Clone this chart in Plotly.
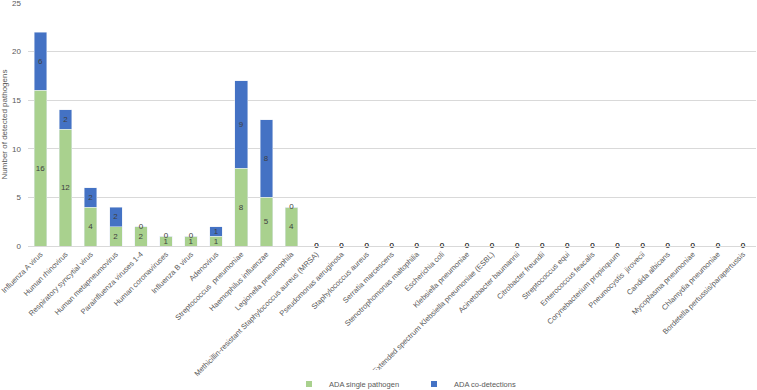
import plotly.graph_objects as go

categories = [
    "Influenza A virus", "Human rhinovirus", "Respiratory syncytial virus",
    "Human metapneumovirus", "Parainfluenza viruses 1-4", "Human coronaviruses",
    "Influenza B virus", "Adenovirus", "Streptococcus  pneumoniae",
    "Haemophilus influenzae", "Legionella pneumophila",
    "Methicillin-resistant Staphylococcus aureus (MRSA)", "Pseudomonas aeruginosa",
    "Staphylococcus aureus", "Serratia marcescens", "Stenotrophomonas maltophilia",
    "Escherichia coli", "Klebsiella pneumoniae",
    "Extended spectrum Klebsiella pneumoniae (ESBL)", "Acinetobacter baumannii",
    "Citrobacter freundii", "Streptococcus equi", "Enterococcus feacalis",
    "Corynebacterium propinquum", "Pneumocystis  jirovecii", "Candida albicans",
    "Mycoplasma pneumoniae", "Chlamydia pneumoniae", "Bordetella pertussis/parapertussis",
]
single = [16, 12, 4, 2, 2, 1, 1, 1, 8, 5, 4] + [0] * 18
codet = [6, 2, 2, 2, 0, 0, 0, 1, 9, 8, 0] + [0] * 18
series_names = ["ADA single pathogen", "ADA co-detections"]

GREEN = "#A9D18E"
BLUE = "#4472C4"
LBL = "#404040"
FONT = "Liberation Sans"
W, H = 757, 390

fig = go.Figure()
for vals, name, col in [(single, series_names[0], GREEN), (codet, series_names[1], BLUE)]:
    fig.add_trace(go.Bar(
        x=categories, y=vals, name=name, marker_color=col,
        text=[str(v) if v else "" for v in vals], textposition="inside",
        insidetextanchor="middle", textangle=0, constraintext="none",
        textfont=dict(color=LBL, size=8, family=FONT), cliponaxis=False,
        showlegend=False,
    ))

# zero-value labels
zx, zy = [], []
for c, s, d in zip(categories, single, codet):
    if s == 0:
        zx.append(c); zy.append(0)
    if d == 0:
        zx.append(c); zy.append(s)
fig.add_trace(go.Scatter(
    x=zx, y=zy, mode="text", text=["0"] * len(zx), textposition="middle center",
    textfont=dict(color=LBL, size=8, family=FONT), showlegend=False,
    hoverinfo="skip", cliponaxis=False,
))

# legend entries with small square swatches
for name, col in [(series_names[0], GREEN), (series_names[1], BLUE)]:
    fig.add_trace(go.Scatter(
        x=[None], y=[None], mode="markers", name=name,
        marker=dict(symbol="square", size=6, color=col),
    ))

fig.update_layout(
    width=W, height=H, barmode="stack", bargap=0.5,
    margin=dict(l=0, r=0, t=0, b=0, autoexpand=False),
    paper_bgcolor="white", plot_bgcolor="white",
    font=dict(family=FONT, color="#595959", size=8),
    legend=dict(orientation="h", x=289 / W, xanchor="left",
                y=(H - 384) / H, yanchor="middle",
                font=dict(size=7.5, color="#595959"),
                itemwidth=30, entrywidth=80, entrywidthmode="pixels",
                traceorder="normal"),
    xaxis=dict(domain=[28 / W, 755.5 / W], range=[-0.5, len(categories) - 0.5],
               tickangle=-45,
               tickfont=dict(size=7.5, color="#595959"),
               showgrid=False, showline=True, linecolor="#d9d9d9",
               ticks="", automargin=False),
    yaxis=dict(domain=[(H - 246) / H, (H - 3) / H],
               range=[0, 25], dtick=5, showgrid=True, gridcolor="#d9d9d9",
               zeroline=False, tickfont=dict(size=8, color="#595959"),
               ticklabeloverflow="allow",
               title=dict(text="Number of detected pathogens",
                          font=dict(size=8, color="#595959"), standoff=6),
               automargin=False, ticklabelstandoff=6),
)

fig.write_html("out.html")
